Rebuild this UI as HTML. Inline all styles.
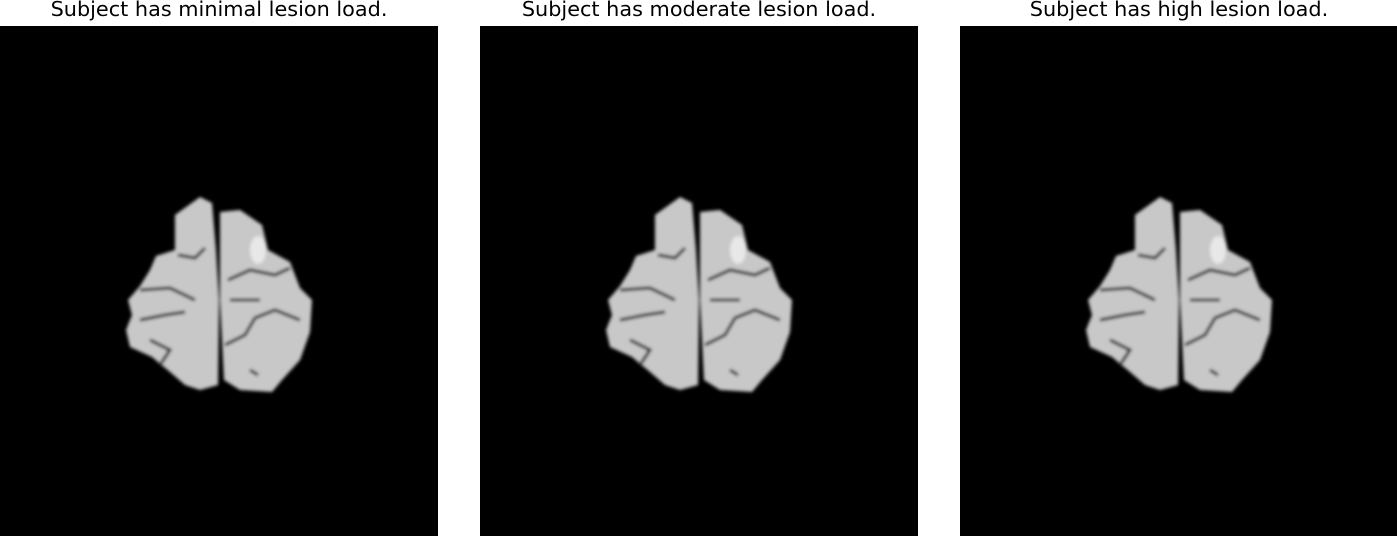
<!DOCTYPE html>
<html><head><meta charset="utf-8"><style>
body{margin:0;background:#fff;width:1397px;height:536px;overflow:hidden;font-family:"Liberation Sans","DejaVu Sans",sans-serif}
.t{position:absolute;top:-3px;font-size:20.8px;color:#000;text-align:center;width:438px;font-family:"DejaVu Sans","Liberation Sans",sans-serif}
</style></head><body>
<div class="t" style="left:0">Subject has minimal lesion load.</div>
<div class="t" style="left:480px">Subject has moderate lesion load.</div>
<div class="t" style="left:960px">Subject has high lesion load.</div>
<svg width="1397" height="536" style="position:absolute;left:0;top:0">
<defs>
<filter id="b"><feGaussianBlur stdDeviation="1.5"/></filter>
<g id="brain">
<rect x="0" y="26" width="438" height="510" fill="#000"/>
<g filter="url(#b)">
<path fill="#c8c8c8" d="M200,197 L212,203 L216,250 L219,300 L218,385 L200,390 L185,385 L170,372 L152,357 L130,347 L126,330 L132,315 L128,300 L140,286 L150,270 L156,256 L175,250 L175,215 Z"/>
<path fill="#c8c8c8" d="M220,212 L240,210 L262,225 L268,250 L290,262 L300,288 L312,300 L310,332 L300,360 L282,380 L272,392 L240,390 L224,380 L220,300 Z"/>
<ellipse cx="258" cy="250" rx="8" ry="14" fill="#e8e8e8"/>
<g stroke="#111" stroke-width="3" fill="none">
<path d="M178,255 L195,258 L205,248"/>
<path d="M140,290 L170,288 L195,300"/>
<path d="M140,320 L165,315 L185,312"/>
<path d="M150,340 L170,350 L160,365"/>
<path d="M228,280 L250,270 L275,275 L290,268"/>
<path d="M225,345 L245,335 L255,318 L275,310 L300,320"/>
<path d="M230,300 L260,300"/>
<path d="M250,370 L258,375"/>
</g></g>
</g>
</defs>
<g><use href="#brain"/></g>
<g transform="translate(480,0)"><use href="#brain"/></g>
<g transform="translate(960,0)"><use href="#brain"/></g>
</svg>
</body></html>
